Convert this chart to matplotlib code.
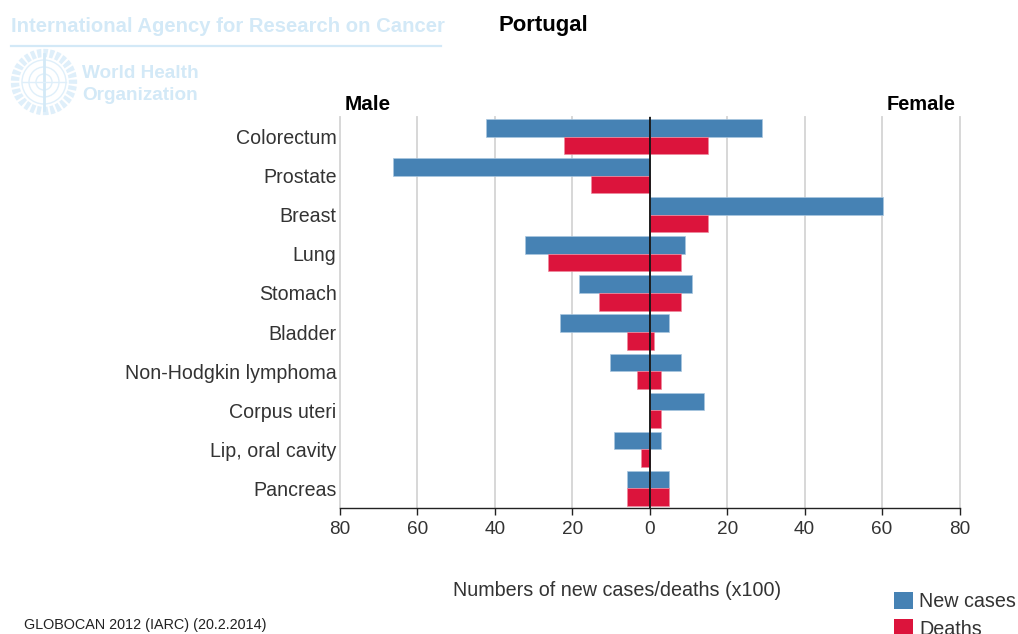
import matplotlib
matplotlib.use("Agg")
import matplotlib.pyplot as plt
from matplotlib.patches import Circle, Patch
from matplotlib.lines import Line2D

plt.rcParams['font.family'] = ['Liberation Sans', 'DejaVu Sans']

categories = ["Colorectum", "Prostate", "Breast", "Lung", "Stomach", "Bladder",
              "Non-Hodgkin lymphoma", "Corpus uteri", "Lip, oral cavity", "Pancreas"]
male_new = [42.4, 66.4, 0, 32.3, 18.3, 23.3, 10.3, 0, 9.3, 6]
male_deaths = [22.2, 15.2, 0, 26.4, 13.2, 6, 3.3, 0, 2.3, 6]
female_new = [29, 0, 60.2, 9, 11, 5, 8, 14, 3, 5]
female_deaths = [15, 0, 15, 8, 8, 1, 3, 3, 0, 5]
tick_values = [-80, -60, -40, -20, 0, 20, 40, 60, 80]
tick_labels = ["80", "60", "40", "20", "0", "20", "40", "60", "80"]

W, H = 1018, 634
BLUE, RED = "#4682b4", "#dc143c"
LOGO = "#d3e9f7"
fig = plt.figure(figsize=(W / 100, H / 100), dpi=100)
ax = fig.add_axes([340 / W, 1 - 508 / H, 619.5 / W, 391 / H])


def fx(px):
    return px / W


def fy(py):
    return 1 - py / H


n = len(categories)
bar_h = 0.45
for i in range(n):
    ax.barh(i - bar_h / 2, -male_new[i], bar_h, color=BLUE, edgecolor="#a9c6df", linewidth=0.5, zorder=3)
    ax.barh(i - bar_h / 2, female_new[i], bar_h, color=BLUE, edgecolor="#a9c6df", linewidth=0.5, zorder=3)
    ax.barh(i + bar_h / 2, -male_deaths[i], bar_h, color=RED, edgecolor="#ee8a9e", linewidth=0.5, zorder=3)
    ax.barh(i + bar_h / 2, female_deaths[i], bar_h, color=RED, edgecolor="#ee8a9e", linewidth=0.5, zorder=3)

ax.axvline(0, color="#111111", lw=1.3, zorder=5)
ax.set_xlim(-80, 80)
ax.set_ylim(n - 0.5, -0.5)
ax.set_xticks(tick_values)
ax.set_xticklabels(tick_labels, fontsize=13.7, color="#333333")
ax.set_yticks(range(n))
ax.set_yticklabels(categories, fontsize=14.1, color="#333333")
ax.tick_params(axis='y', length=0, pad=2.5)
ax.tick_params(axis='x', length=5, width=1, color="#222222", pad=4.5)
ax.xaxis.grid(True, color="#d4d4d4", lw=1.3, zorder=0, clip_on=False)
ax.set_axisbelow(True)
for s in ("top", "left", "right"):
    ax.spines[s].set_visible(False)
ax.spines["bottom"].set_color("#222222")
ax.spines["bottom"].set_linewidth(1)

fig.text(fx(617), fy(590), "Numbers of new cases/deaths (x100)", fontsize=14.2,
         color="#333333", ha="center", va="center")
fig.text(fx(498), fy(25), "Portugal", fontsize=15.9, fontweight="bold", ha="left", va="center")
fig.text(fx(345), fy(104), "Male", fontsize=14.9, fontweight="bold", ha="left", va="center")
fig.text(fx(955), fy(104), "Female", fontsize=14.4, fontweight="bold", ha="right", va="center")
fig.text(fx(24), fy(625), "GLOBOCAN 2012 (IARC) (20.2.2014)", fontsize=10.35, color="#222222",
         ha="left", va="center")

# Header logo
fig.text(fx(11), fy(26), "International Agency for Research on Cancer", fontsize=14.6,
         fontweight="bold", color=LOGO, ha="left", va="center")
fig.add_artist(Line2D([fx(11), fx(441)], [fy(46), fy(46)], color=LOGO, lw=1.6))
fig.text(fx(82), fy(74), "World Health", fontsize=13.7, fontweight="bold", color=LOGO,
         ha="left", va="center")
fig.text(fx(82), fy(95), "Organization", fontsize=13.7, fontweight="bold", color=LOGO,
         ha="left", va="center")
EMBLEM = "#dfeffa"
fig.add_artist(Circle((44, H - 82), 29, transform=None, fill=False, edgecolor=EMBLEM, lw=6,
                      linestyle=(0, (0.5, 0.25))))
for r in (22, 15, 8):
    fig.add_artist(Circle((44, H - 82), r, transform=None, fill=False, edgecolor=EMBLEM, lw=1))
fig.add_artist(Line2D([fx(44), fx(44)], [fy(54), fy(110)], color=LOGO, lw=2))
fig.add_artist(Line2D([fx(22), fx(66)], [fy(82), fy(82)], color=EMBLEM, lw=1))

handles = [Patch(facecolor=BLUE, label="New cases"), Patch(facecolor=RED, label="Deaths")]
fig.legend(handles=handles, loc="upper left", bbox_to_anchor=(fx(878), fy(576)), frameon=False,
           fontsize=14.2, labelcolor="#333333", handlelength=0.95, handleheight=0.95,
           handletextpad=0.35, labelspacing=0.42, borderpad=0.3)

fig.savefig("out.png", dpi=100)
